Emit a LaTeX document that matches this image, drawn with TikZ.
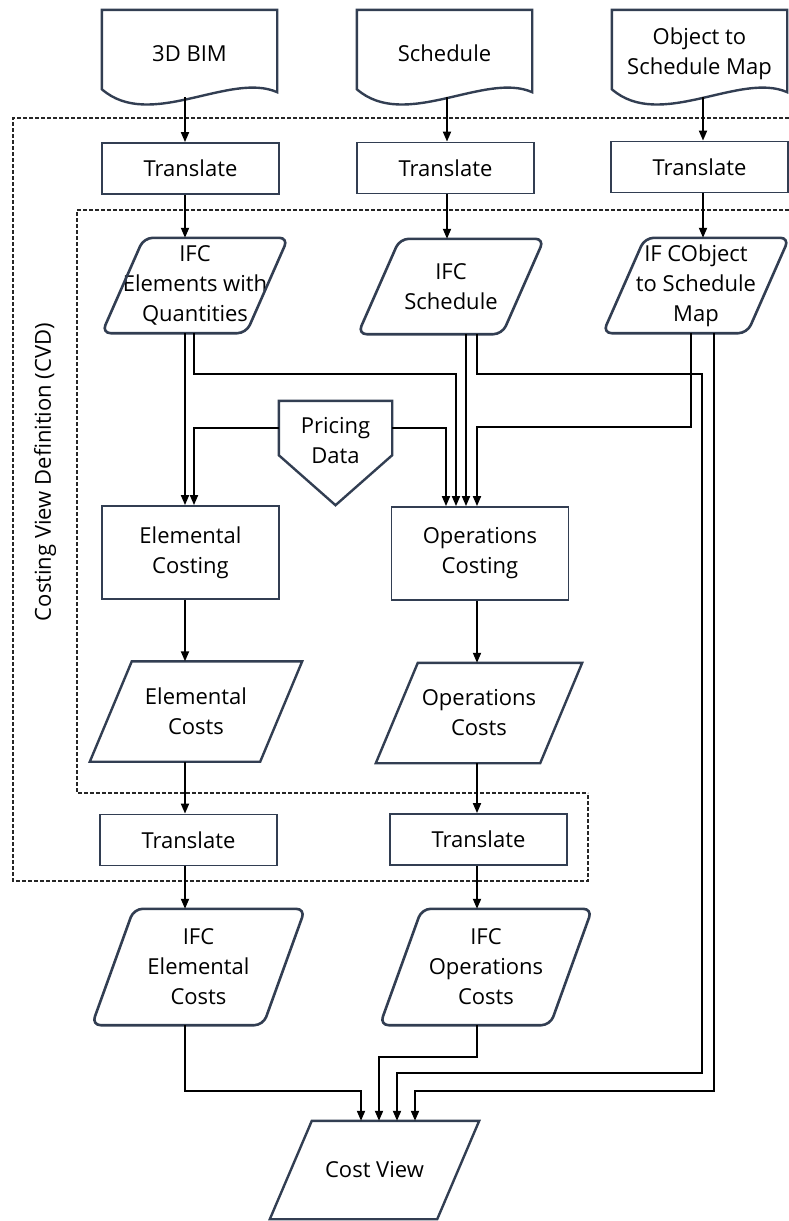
\documentclass[tikz,border=0pt]{standalone}
\usepackage{fontspec}
\setmainfont{Open Sans}
\usepackage{tikz}
\usetikzlibrary{arrows.meta}

\definecolor{boxblue}{RGB}{50,62,82}

\begin{document}
\begin{tikzpicture}[x=1pt,y=1pt,>={Triangle[length=10pt,width=8pt]},font=\fontsize{22}{30}\selectfont]
	\tikzstyle{docnode}=[minimum width=175pt,minimum height=87pt,inner sep=0pt,align=center]
	\tikzstyle{transbox}=[draw=boxblue,fill=white,line width=1.8pt,minimum width=177pt,minimum height=51pt,inner sep=0pt,align=center]
	\tikzstyle{costbox}=[transbox,minimum height=93pt]
	\tikzstyle{ifcdata}=[minimum width=186pt,minimum height=95pt,inner sep=0pt,align=center]
	\tikzstyle{datapar}=[minimum width=210pt,minimum height=100pt,inner sep=0pt,align=center]
	\tikzstyle{outline}=[draw=boxblue,line width=2.4pt]
	\tikzstyle{ifcline}=[outline,line width=2.6pt,rounded corners=9pt]
	\tikzstyle{cvd}=[dash pattern=on 4pt off 2pt,line width=1.1pt,black!85]
	\tikzstyle{wire}=[line width=1.8pt]

	\useasboundingbox (0,0) rectangle (789,-1221);

	\draw[cvd] (789,-118) -| (13,-881) -| (588,-793);
	\draw[cvd] (789,-210) -| (77,-793) -- (588,-793);
	\node[rotate=90] (cvdlabel) at (45,-472) {Costing View Definition (CVD)};

	\coordinate (xA) at (185,0);
	\coordinate (xA2) at (194,0);
	\coordinate (xB) at (447,0);
	\coordinate (xB1) at (446,0);
	\coordinate (xB2) at (456,0);
	\coordinate (xB3) at (466,0);
	\coordinate (xD) at (477,0);
	\coordinate (xC) at (703,0);
	\coordinate (xV1) at (361,0);
	\coordinate (xV2) at (379,0);
	\coordinate (xV3) at (397,0);
	\coordinate (xV4) at (415,0);

	\coordinate (j1) at (194,-374);
	\coordinate (j2) at (477,-374);
	\coordinate (j3) at (702,-1073);
	\coordinate (j4) at (691,-427);
	\coordinate (j5) at (714,-1091);
	\coordinate (j6) at (185,-1091);
	\coordinate (j7) at (477,-1057);

	\node [docnode] (bim) at (189.5,-53.5) {3D BIM};
	\node [docnode] (sched) at (444.5,-53.5) {Schedule};
	\node [docnode] (objmap) at (699.5,-53.5) {Object to\\Schedule Map};

	\foreach \d in {bim,sched,objmap}
		\draw[outline] ([yshift=5pt]\d.south east) -- (\d.north east) -- (\d.north west) -- ([yshift=8pt]\d.south west)
		.. controls ([shift={(48pt,-34pt)}]\d.south west) and ([shift={(-47pt,26pt)}]\d.south east) .. cycle;

	\node [transbox] (tr1) at (190.5,-168.5) {Translate};
	\node [transbox] (tr2) at (445.5,-168) {Translate};
	\node [transbox] (tr3) at (699.5,-167) {Translate};

	\node [ifcdata] (ifcel) at (195,-285.5) {IFC\\Elements with\\Quantities};
	\node [ifcdata] (ifcsch) at (451,-286.5) {IFC\\Schedule};
	\node [ifcdata] (ifcmap) at (696,-285.5) {IF CObject\\to Schedule\\Map};

	\node [ifcdata,minimum width=113pt,minimum height=80pt] (pricing) at (335.5,-441) {Pricing\\Data};
	\draw[outline] (pricing.north west) -- (pricing.north east) -- ([yshift=26pt]pricing.south east)
		-- ([yshift=-24pt]pricing.south) -- ([yshift=26pt]pricing.south west) -- cycle;

	\node [costbox] (elcost) at (190.5,-552.5) {Elemental\\Costing};
	\node [costbox] (opcost) at (480,-553.5) {Operations\\Costing};

	\node [datapar,minimum width=212pt] (elcosts) at (196,-711.5) {Elemental\\Costs};
	\node [datapar,minimum width=206pt] (opcosts) at (479,-713) {Operations\\Costs};

	\node [transbox] (tr4) at (188.5,-840) {Translate};
	\node [transbox] (tr5) at (478.5,-839.5) {Translate};

	\node [ifcdata,minimum width=213pt,minimum height=116pt] (ifcelc) at (198.5,-967) {IFC\\Elemental\\Costs};
	\node [ifcdata,minimum width=212pt,minimum height=116pt] (ifcopc) at (486,-967) {IFC\\Operations\\Costs};

	\node [datapar,minimum width=209pt,minimum height=98pt] (costview) at (374.5,-1170) {Cost View};

	\foreach \n in {ifcel,ifcsch,ifcmap,ifcelc,ifcopc}
		\draw[ifcline] ([xshift=42pt]\n.north west) -- (\n.north east) -- ([xshift=-42pt]\n.south east) -- (\n.south west) -- cycle;
	\foreach \n in {elcosts,opcosts,costview}
		\draw[outline] ([xshift=42pt]\n.north west) -- (\n.north east) -- ([xshift=-42pt]\n.south east) -- (\n.south west) -- cycle;

	\draw[wire,->] (bim.south -| xA) -- (tr1.north -| xA);
	\draw[wire,->] (tr1.south -| xA) -- (ifcel.north -| xA);
	\draw[wire,->] (sched.south -| xB) -- (tr2.north -| xB);
	\draw[wire,->] (tr2.south -| xB) -- (ifcsch.north -| xB);
	\draw[wire,->] (objmap.south -| xC) -- (tr3.north -| xC);
	\draw[wire,->] (tr3.south -| xC) -- (ifcmap.north -| xC);

	\draw[wire,->] (ifcel.south -| xA) -- (elcost.north -| xA);
	\draw[wire,->] (ifcel.south -| j1) -- (j1) -| (opcost.north -| xB2);
	\draw[wire,->] ([yshift=13pt]pricing.west) -| (elcost.north -| xA2);
	\draw[wire,->] ([yshift=13pt]pricing.east) -| (opcost.north -| xB1);
	\draw[wire,->] (ifcsch.south -| xB3) -- (opcost.north -| xB3);
	\draw[wire,->] (ifcsch.south -| j2) -- (j2) -| (j3) -| (costview.north -| xV3);
	\draw[wire,->] (ifcmap.south -| j4) -- (j4) -| (opcost.north -| xD);
	\draw[wire,->] (ifcmap.south -| j5) -- (j5) -| (costview.north -| xV4);

	\draw[wire,->] (elcost.south -| xA) -- (elcosts.north -| xA);
	\draw[wire,->] (elcosts.south -| xA) -- (tr4.north -| xA);
	\draw[wire,->] (tr4.south -| xA) -- (ifcelc.north -| xA);
	\draw[wire,->] (opcost.south -| xD) -- (opcosts.north -| xD);
	\draw[wire,->] (opcosts.south -| xD) -- (tr5.north -| xD);
	\draw[wire,->] (tr5.south -| xD) -- (ifcopc.north -| xD);

	\draw[wire,->] (ifcelc.south -| j6) -- (j6) -| (costview.north -| xV1);
	\draw[wire,->] (ifcopc.south -| j7) -- (j7) -| (costview.north -| xV2);

\end{tikzpicture}
\end{document}
